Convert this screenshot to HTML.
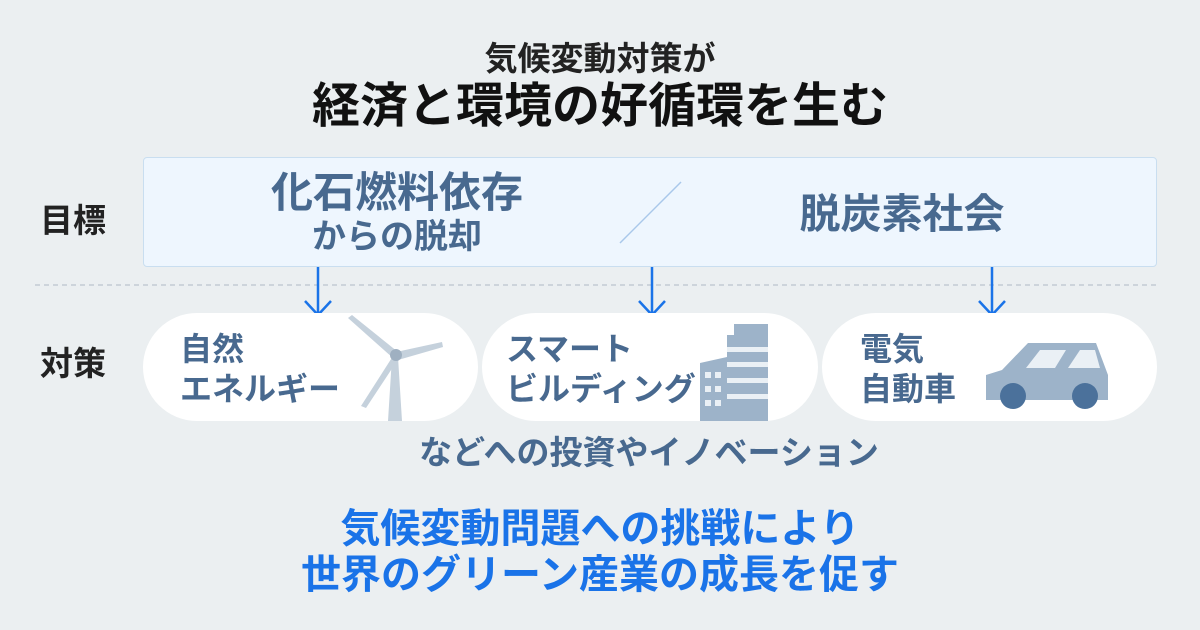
<!DOCTYPE html>
<html><head><meta charset="utf-8"><style>
*{margin:0;padding:0;box-sizing:border-box}
body{width:1200px;height:630px;background:#ebeff1;font-family:"Liberation Sans","Noto Sans CJK JP",sans-serif;position:relative;overflow:hidden}
.a{position:absolute;white-space:nowrap;line-height:1}
.t1{left:0;width:1200px;text-align:center;top:42px;font-size:33px;font-weight:bold;color:#222}
.t2{left:0;width:1200px;text-align:center;top:83px;font-size:48px;font-weight:bold;color:#111}
.lab{font-size:33px;font-weight:bold;color:#222;left:40px}
.box{left:143px;top:157px;width:1014px;height:110px;background:#eef6fe;border:1.5px solid #c9def0;border-radius:4px}
.bt{color:#48698f;font-weight:bold;text-align:center}
.pill{top:313px;height:108px;background:#fff;border-radius:54px}
.pt{font-size:32px;font-weight:bold;color:#48698f;line-height:40px}
.bot{left:0;width:1200px;text-align:center;font-size:40px;font-weight:bold;color:#1a73e8}
</style></head><body>
<div class="a t1">気候変動対策が</div>
<div class="a t2">経済と環境の好循環を生む</div>
<div class="a lab" style="top:204px">目標</div>
<div class="a lab" style="top:347px">対策</div>
<div class="a box"></div>
<div class="a bt" style="left:197px;width:400px;top:172px;font-size:42px">化石燃料依存</div>
<div class="a bt" style="left:197px;width:400px;top:220px;font-size:34px">からの脱却</div>
<div class="a bt" style="left:702px;width:400px;top:194px;font-size:41px">脱炭素社会</div>
<svg class="a" style="left:0;top:0" width="1200" height="630">
<line x1="620" y1="243" x2="681" y2="182" stroke="#a9c8ea" stroke-width="1.5"/>
<line x1="35" y1="285" x2="1157" y2="285" stroke="#c3ccd4" stroke-width="1.5" stroke-dasharray="5,4"/>
<g stroke="#1a73e8" stroke-width="2.5" fill="none">
<path d="M318 267V315M305 301L318 315L331 301"/>
<path d="M652 267V315M639 301L652 315L665 301"/>
<path d="M992 267V315M979 301L992 315L1005 301"/>
</g>
</svg>
<div class="a pill" style="left:143px;width:335px"></div>
<div class="a pill" style="left:482px;width:336px"></div>
<div class="a pill" style="left:822px;width:335px"></div>
<div class="a pt" style="left:180px;top:329px">自然<br>エネルギー</div>
<div class="a pt" style="left:506px;top:329px">スマート<br>ビルディング</div>
<div class="a pt" style="left:860px;top:329px">電気<br>自動車</div>
<svg class="a" style="left:0;top:0" width="1200" height="630">
<polygon points="392,357 398,357 402,421 388,421" fill="#c5d1dc"/>
<polygon points="348,318 352,315 398,352 393,358" fill="#c5d1dc"/>
<polygon points="396,352 442,342 443,347 398,360" fill="#c5d1dc"/>
<polygon points="393,356 399,358 366,408 361,406" fill="#c5d1dc"/>
<circle cx="396" cy="355" r="6" fill="#9fb0c1"/>
<rect x="734" y="324" width="34" height="12" fill="#9db3c9"/>
<rect x="727" y="335" width="41" height="86" fill="#9db3c9"/>
<polygon points="700,363 727,357 727,421 700,421" fill="#9db3c9"/>
<g fill="#eaf0f5"><rect x="727" y="347" width="41" height="5"/><rect x="727" y="362" width="41" height="5"/><rect x="727" y="378" width="41" height="5"/><rect x="727" y="394" width="41" height="5"/>
<rect x="705" y="372" width="6" height="6"/><rect x="715" y="372" width="6" height="6"/><rect x="705" y="386" width="6" height="6"/><rect x="715" y="386" width="6" height="6"/><rect x="705" y="400" width="6" height="6"/><rect x="715" y="400" width="6" height="6"/></g>
<polygon points="986,375 1002,370 1028,343 1096,343 1108,375 1108,400 986,400" fill="#9db3c9"/>
<polygon points="1026,368 1040,350 1066,350 1055,368" fill="#eaf0f5"/>
<polygon points="1068,368 1080,350 1095,350 1100,368" fill="#eaf0f5"/>
<circle cx="1013" cy="396" r="13" fill="#4b719b"/>
<circle cx="1085" cy="396" r="13" fill="#4b719b"/>
</svg>
<div class="a" style="left:49px;width:1200px;text-align:center;top:436px;font-size:33px;font-weight:bold;color:#48698f">などへの投資やイノベーション</div>
<div class="a bot" style="top:509px">気候変動問題への挑戦により</div>
<div class="a bot" style="top:555px">世界のグリーン産業の成長を促す</div>
</body></html>
